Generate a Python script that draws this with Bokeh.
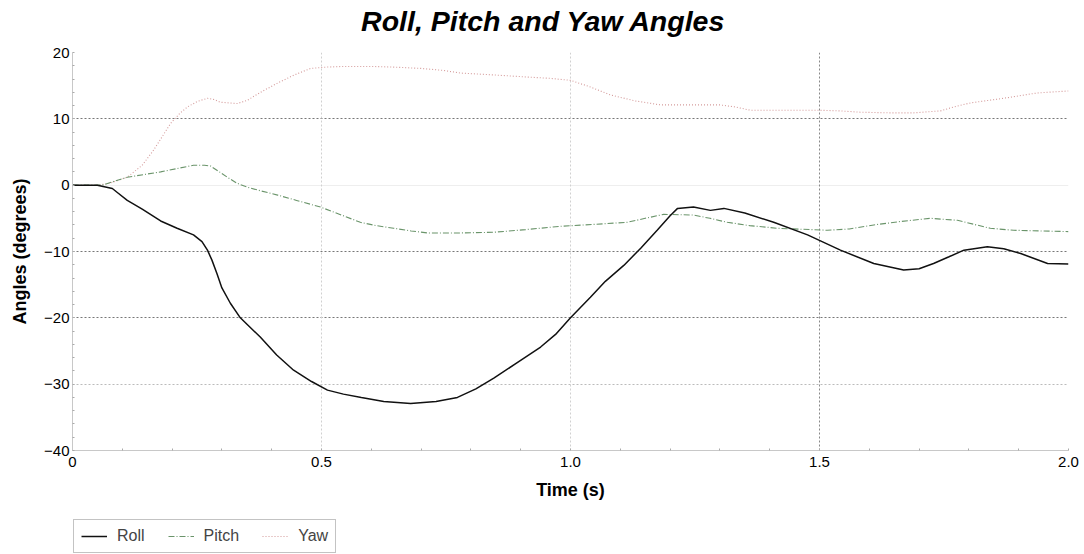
from bokeh.plotting import figure
from bokeh.models import (Legend, LegendItem, FixedTicker, Grid, CustomJSTickFormatter, Label)
from bokeh.layouts import column
from bokeh.embed import file_html
from bokeh.resources import INLINE

# ---- data ----
roll_t = [0, 0.05, 0.08, 0.09, 0.11, 0.14, 0.177, 0.21, 0.243, 0.26, 0.271, 0.28, 0.29,
          0.30, 0.317, 0.337, 0.355, 0.377, 0.41, 0.444, 0.48, 0.512, 0.544, 0.58, 0.625,
          0.679, 0.73, 0.773, 0.81, 0.846, 0.89, 0.94, 0.97, 1.0, 1.04, 1.07, 1.107, 1.141,
          1.174, 1.20, 1.215, 1.247, 1.281, 1.308, 1.35, 1.408, 1.476, 1.542, 1.609, 1.669,
          1.70, 1.729, 1.76, 1.79, 1.837, 1.87, 1.904, 1.958, 2.0]
roll_v = [0, 0, -0.5, -1.1, -2.3, -3.6, -5.4, -6.5, -7.5, -8.5, -9.8, -11.3, -13.3,
          -15.5, -17.8, -20.0, -21.3, -22.9, -25.6, -27.9, -29.6, -30.9, -31.5, -32.0, -32.6,
          -32.9, -32.6, -32.0, -30.7, -29.1, -26.9, -24.4, -22.5, -20.0, -16.9, -14.5, -12.1, -9.5,
          -6.8, -4.6, -3.5, -3.3, -3.8, -3.5, -4.2, -5.6, -7.5, -9.8, -11.8, -12.8,
          -12.6, -11.8, -10.8, -9.8, -9.3, -9.6, -10.3, -11.8, -11.9]

pitch_t = [0, 0.06, 0.08, 0.11, 0.177, 0.21, 0.243, 0.265, 0.277, 0.295, 0.311, 0.33, 0.351,
           0.38, 0.412, 0.45, 0.498, 0.54, 0.578, 0.61, 0.645, 0.68, 0.712, 0.779, 0.846,
           0.91, 0.98, 1.05, 1.114, 1.15, 1.187, 1.247, 1.28, 1.315, 1.36, 1.416, 1.516,
           1.56, 1.609, 1.66, 1.723, 1.777, 1.81, 1.843, 1.89, 1.944, 2.0]
pitch_v = [0, 0, 0.5, 1.2, 2.0, 2.5, 3.0, 3.0, 2.9, 2.0, 1.2, 0.3, -0.3,
           -0.9, -1.5, -2.3, -3.3, -4.5, -5.6, -6.1, -6.5, -6.9, -7.2, -7.2, -7.1,
           -6.7, -6.2, -5.9, -5.6, -5.0, -4.4, -4.5, -5.0, -5.6, -6.1, -6.5, -6.8,
           -6.6, -6.0, -5.5, -5.0, -5.3, -5.9, -6.5, -6.8, -6.9, -7.0]

yaw_t = [0, 0.05, 0.076, 0.11, 0.14, 0.163, 0.18, 0.197, 0.215, 0.231, 0.25, 0.271, 0.285,
         0.297, 0.331, 0.351, 0.38, 0.412, 0.445, 0.478, 0.51, 0.544, 0.6, 0.645, 0.7, 0.745,
         0.779, 0.85, 0.913, 0.96, 1.0, 1.04, 1.08, 1.13, 1.181, 1.24, 1.3, 1.33, 1.361,
         1.42, 1.496, 1.54, 1.582, 1.64, 1.689, 1.743, 1.77, 1.803, 1.87, 1.937, 2.0]
yaw_v = [0, 0, 0.3, 1.2, 3.0, 5.3, 7.3, 9.3, 10.8, 11.8, 12.6, 13.1, 12.9,
         12.5, 12.3, 12.8, 14.1, 15.4, 16.6, 17.6, 17.8, 17.9, 17.9, 17.8, 17.6, 17.3,
         16.9, 16.6, 16.3, 16.1, 15.8, 14.8, 13.6, 12.7, 12.1, 12.1, 12.1, 11.8, 11.3,
         11.3, 11.3, 11.2, 11.0, 10.9, 10.9, 11.2, 11.8, 12.4, 13.1, 13.9, 14.2]

series_names = ["Roll", "Pitch", "Yaw"]
x_ticks = [0, 0.5, 1.0, 1.5, 2.0]
y_ticks = [20, 10, 0, -10, -20, -30, -40]
title_text = "Roll, Pitch and Yaw Angles"

FONT = "Liberation Sans"
W = 1084
ROLL_STYLE = dict(line_color="#111111", line_width=1.5)
PITCH_STYLE = dict(line_color="#6a946a", line_width=1.1, line_dash="6 2 1 2")
YAW_STYLE = dict(line_color="#d49a9a", line_width=1.1, line_dash="1 2")


def bare(height, y_range=(0, 1)):
    f = figure(width=W, height=height, x_range=(0, 2), y_range=y_range,
               output_backend="svg", toolbar_location=None,
               x_axis_type=None, y_axis_type=None,
               min_border_left=0, min_border_right=0, min_border_top=0, min_border_bottom=0)
    f.outline_line_color = None
    f.xgrid.grid_line_color = None
    f.ygrid.grid_line_color = None
    return f


# ---- title strip ----
p0 = bare(40)
p0.add_layout(Label(x=471, y=20, x_units="screen", y_units="screen", text=title_text,
                    text_align="center", text_baseline="alphabetic",
                    text_font=FONT, text_font_size="28.5px", text_font_style="bold italic",
                    text_color="black"))

# ---- main plot ----
p = figure(width=W, height=476, x_range=(0, 2.0), y_range=(-40, 20),
           output_backend="svg", toolbar_location=None,
           min_border_left=72, min_border_right=16, min_border_top=12,
           min_border_bottom=66)
p.outline_line_color = None

xa = p.xaxis[0]
ya = p.yaxis[0]
xa.ticker = FixedTicker(ticks=x_ticks, minor_ticks=[i / 10 for i in range(21)])
ya.ticker = FixedTicker(ticks=y_ticks, minor_ticks=list(range(-40, 21, 2)))
xa.formatter = CustomJSTickFormatter(code="return tick == 0 ? '0' : tick.toFixed(1);")
for ax in (xa, ya):
    ax.axis_line_color = "#c8c8c8"
    ax.axis_line_width = 1
    ax.major_tick_in = 0
    ax.major_tick_out = 0
    ax.minor_tick_line_color = "#aaaaaa"
    ax.minor_tick_in = 2
    ax.minor_tick_out = 0
    ax.major_label_text_font = FONT
    ax.major_label_text_font_size = "15px"
    ax.major_label_text_color = "black"
    ax.axis_label_text_font = FONT
    ax.axis_label_text_font_size = "18px"
    ax.axis_label_text_font_style = "bold"
    ax.axis_label_text_color = "black"
xa.axis_label = "Time (s)"
ya.axis_label = "Angles (degrees)"
xa.major_label_standoff = 6
ya.major_label_standoff = 3
xa.axis_label_standoff = 10
ya.axis_label_standoff = 11

p.xgrid.grid_line_color = None
p.ygrid.grid_line_color = None
g1 = Grid(dimension=1, ticker=FixedTicker(ticks=[20, 10, -10, -20]),
          grid_line_color="#777777", grid_line_dash="2 2", grid_line_width=1)
g2 = Grid(dimension=1, ticker=FixedTicker(ticks=[-30]),
          grid_line_color="#bbbbbb", grid_line_dash="2 2", grid_line_width=1)
g3 = Grid(dimension=1, ticker=FixedTicker(ticks=[0]),
          grid_line_color="#eeeeee", grid_line_width=1)
g4 = Grid(dimension=0, ticker=FixedTicker(ticks=[0.5, 1.0]),
          grid_line_color="#d0d0d0", grid_line_dash="2 2", grid_line_width=1)
g5 = Grid(dimension=0, ticker=FixedTicker(ticks=[1.5]),
          grid_line_color="#888888", grid_line_dash="2 2", grid_line_width=1)
for g in (g1, g2, g3, g4, g5):
    p.add_layout(g)

p.line(yaw_t, yaw_v, **YAW_STYLE)
p.line(pitch_t, pitch_v, **PITCH_STYLE)
p.line(roll_t, roll_v, **ROLL_STYLE)

# ---- legend strip (same series drawn out of view, only to feed the legend) ----
p2 = bare(38, y_range=(1000, 1001))
l_roll = p2.line(roll_t, roll_v, **ROLL_STYLE)
l_pitch = p2.line(pitch_t, pitch_v, **PITCH_STYLE)
l_yaw = p2.line(yaw_t, yaw_v, **YAW_STYLE)
legend = Legend(items=[LegendItem(label=series_names[0], renderers=[l_roll]),
                       LegendItem(label=series_names[1], renderers=[l_pitch]),
                       LegendItem(label=series_names[2], renderers=[l_yaw])],
                orientation="horizontal", location=(1, 1), margin=0, padding=7,
                glyph_width=26, glyph_height=18, label_height=18, label_standoff=10,
                spacing=23, label_text_font=FONT, label_text_font_size="16px",
                border_line_color="#888888", border_line_width=1,
                background_fill_alpha=1.0)
p2.add_layout(legend, "center")

layout = column(p0, p, p2, spacing=0)
open("out.html", "w").write(file_html(layout, INLINE))
